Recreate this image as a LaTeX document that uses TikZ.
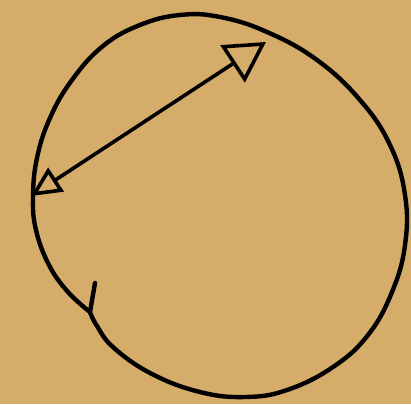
\documentclass[tikz,border=0pt]{standalone}
\usetikzlibrary{arrows.meta}
\definecolor{paper}{RGB}{214,172,106}

\begin{document}
\begin{tikzpicture}[x=1pt,y=-1pt, line cap=round, line join=round]
    % Background sheet
    \fill[paper] (0,0) rectangle (411,404);
    \useasboundingbox (0,0) rectangle (411,404);

    % Hand drawn circle, with the small tick at the bottom left
    \draw[line width=4.4pt] plot[smooth, tension=0.7] coordinates {
        (90,312) (68,292) (49,265) (36,230) (33,197) (37,158) (50,118)
        (72,80) (103,46) (140,25) (180,15) (220,17) (267,32) (317,60)
        (360,100) (390,145) (405,195) (405,245) (392,292) (368,335)
        (333,367) (287,390) (245,397) (200,392) (152,374) (114,348)
        (97,326) (90,312)};
    \draw[line width=4.4pt] (90,312) -- (95,283);

    % Diameter arrow
    \coordinate (left) at (31,196);
    \coordinate (right) at (266,42);
    \draw[line width=3.6pt,
          {Triangle[open,length=30pt,width=28pt]}-{Triangle[open,length=40pt,width=44pt]}]
        (left) -- (right);
\end{tikzpicture}
\end{document}
